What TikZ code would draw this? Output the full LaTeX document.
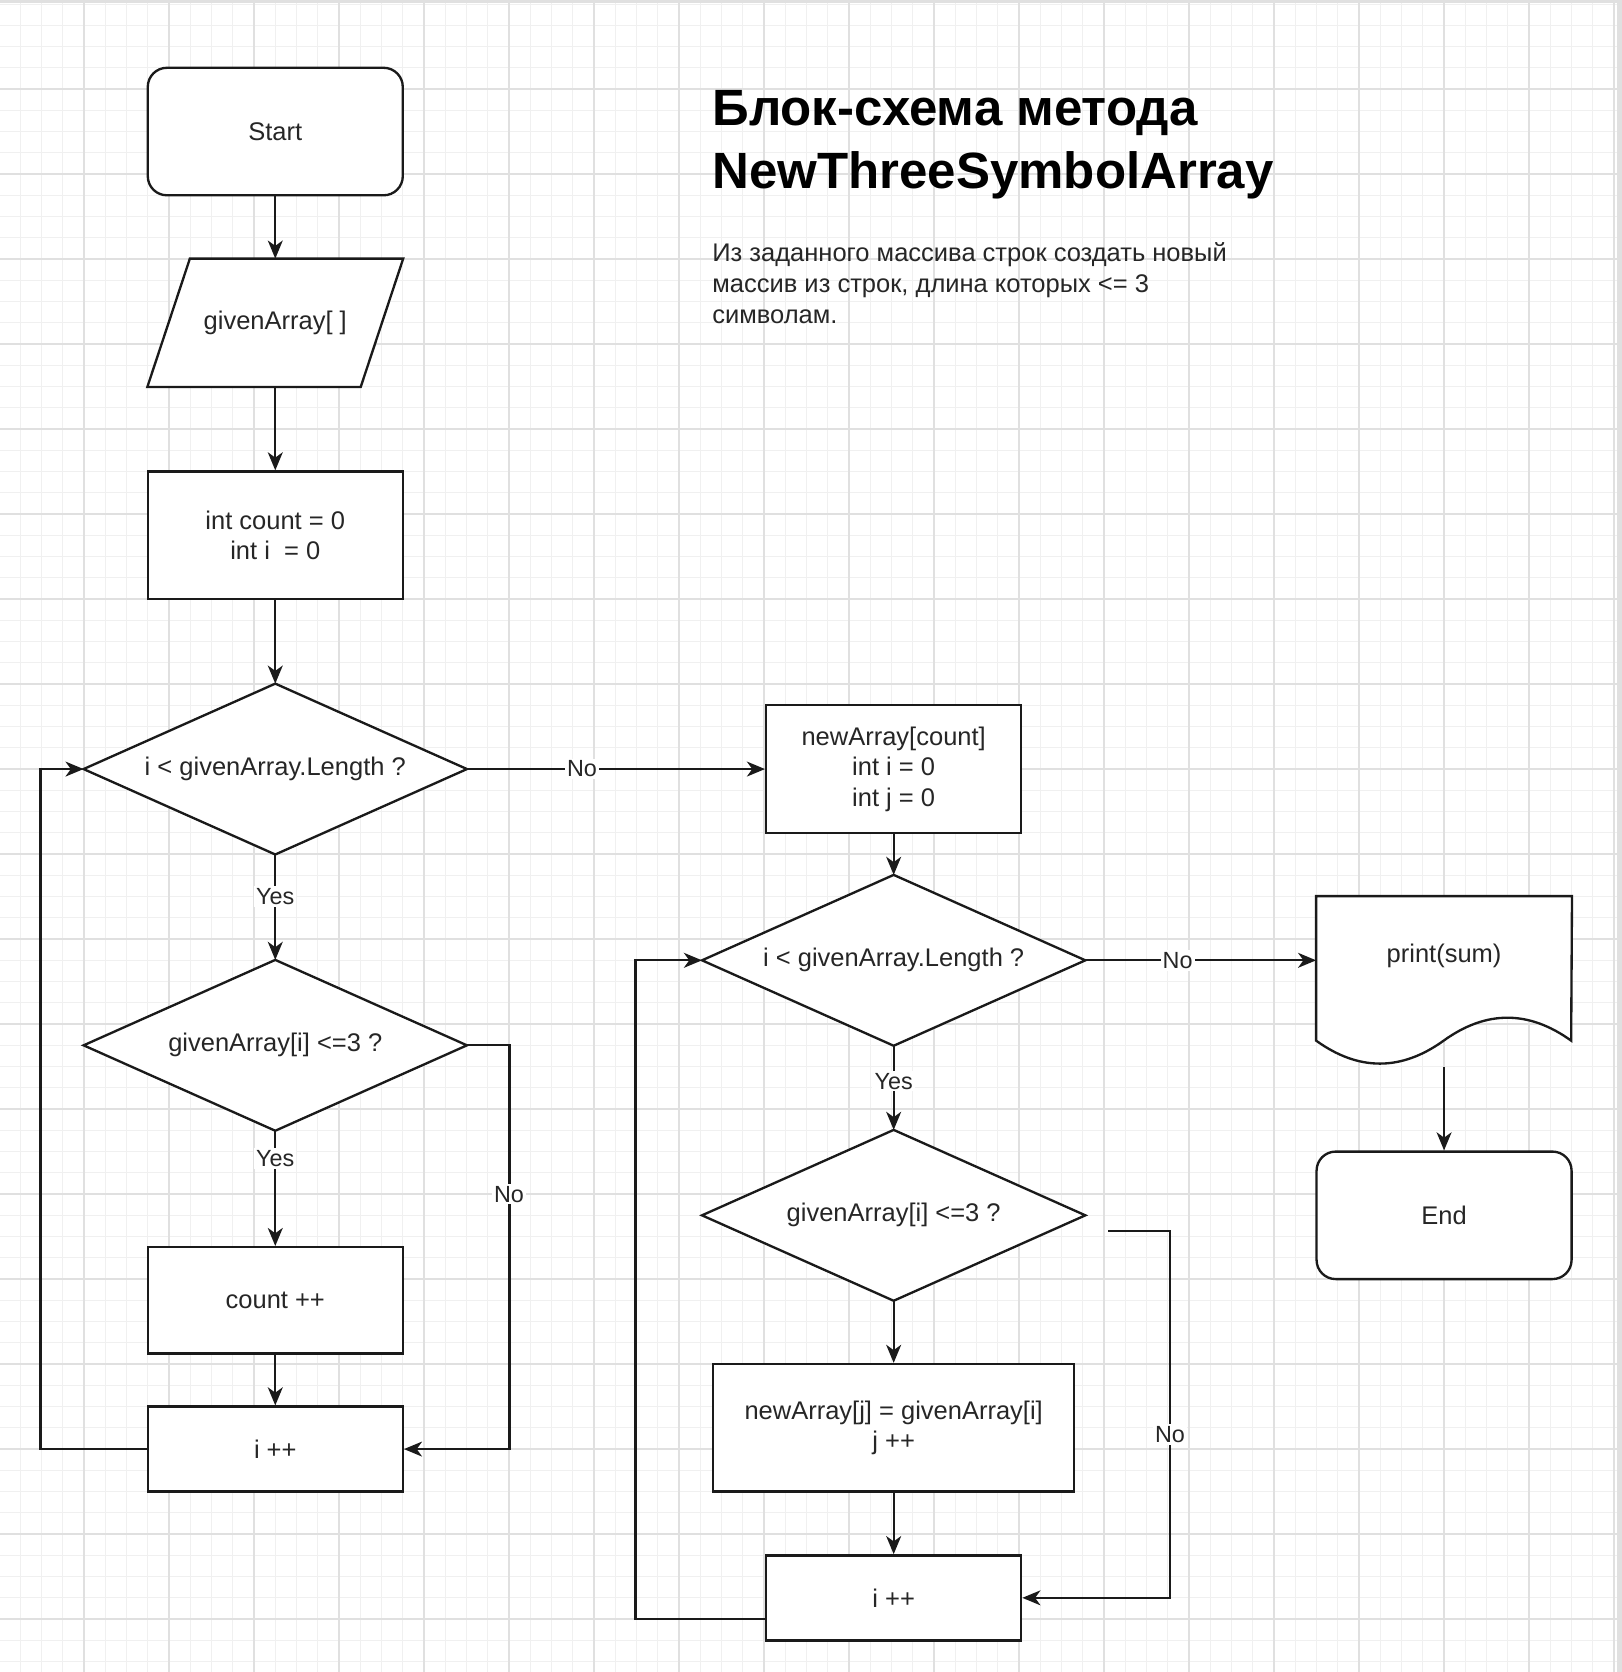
\documentclass[tikz,border=0pt]{standalone}
\usepackage{fontspec}
\setmainfont{Liberation Sans}
\usetikzlibrary{arrows.meta,shapes.geometric,calc}
\definecolor{gridminor}{HTML}{F0F0F0}
\definecolor{gridmajor}{HTML}{E0E0E0}
\definecolor{ink}{HTML}{1A1A1A}
\definecolor{txt}{HTML}{262626}
\begin{document}
\begin{tikzpicture}[x=1pt,y=-1pt,
  every node/.style={font=\fontsize{12}{14.4}\selectfont, text=txt},
  box/.style={draw=ink, line width=1.1pt, fill=white, inner sep=0pt, align=center, minimum width=120pt},
  roundbox/.style={box, rounded corners=9pt, minimum height=60pt},
  plainbox/.style={inner sep=0pt, minimum width=120pt, align=center},
  decbox/.style={inner sep=0pt, minimum width=180pt, minimum height=80pt, align=center},
  shapeline/.style={draw=ink, line width=1.1pt, fill=white},
  arr/.style={draw=ink, line width=1.1pt, -{Stealth[length=8.5pt,width=7pt,inset=2.5pt]}},
  lab/.style={fill=white, inner sep=1pt, font=\fontsize{11}{13}\selectfont},
  minorline/.style={draw=gridminor, line width=0.5pt},
  majorline/.style={draw=gridmajor, line width=0.9pt}
]
\useasboundingbox[fill=white] (-39.54,-41.9) rectangle (723.6,744.9);
% grid
\foreach \x in {-30,-20,...,720} \draw[minorline] (\x,-41.9) -- (\x,744.9);
\foreach \y in {-40,-30,...,740} \draw[minorline] (-39.54,\y) -- (723.6,\y);
\foreach \x in {0,40,...,720} \draw[majorline] (\x,-41.9) -- (\x,744.9);
\foreach \y in {0,40,...,740} \draw[majorline] (-39.54,\y) -- (723.6,\y);
\draw[draw=gridmajor, line width=1pt] (-39.54,-41.2) -- (723.6,-41.2);
\fill[gridmajor] (721.6,-41.9) rectangle (723.6,744.9);

% title and description
\node[anchor=north west, inner sep=0pt, align=left, text=black,
      font=\fontsize{24}{30}\bfseries\selectfont] (title) at (295.5,0.3)
  {Блок-схема метода\\NewThreeSymbolArray};
\node[anchor=north west, inner sep=0pt, align=left,
      font=\fontsize{12}{14.6}\selectfont] (desc) at (295.5,72)
  {Из заданного массива строк создать новый\\массив из строк, длина которых <= 3\\символам.};

% left column
\node[roundbox] (start) at (90,20) {Start};
\node[plainbox, minimum height=60pt] (in) at (90,110) {};
\draw[shapeline] ([xshift=20pt]in.north west) -- (in.north east) -- ([xshift=-20pt]in.south east) -- (in.south west) -- cycle;
\node (intxt) at (in.center) {givenArray[ ]};
\node[box, minimum height=60pt] (init) at (90,210) {int count = 0\\int i \ = 0};
\node[decbox] (d1) at (90,320) {};
\node[decbox] (d2) at (90,450) {};
\node[box, minimum height=50pt] (cnt) at (90,570) {count ++};
\node[box, minimum height=40pt] (inc1) at (90,640) {i ++};

% right column
\node[box, minimum height=60pt] (newarr) at (381,320) {newArray[count]\\int i = 0\\int j = 0};
\node[decbox] (d3) at (381,410) {};
\node[decbox] (d4) at (381,530) {};
\node[box, minimum width=170pt, minimum height=60pt] (assign) at (381,630) {newArray[j] = givenArray[i]\\j ++};
\node[box, minimum height=40pt] (inc2) at (381,710) {i ++};

% diamonds
\foreach \d in {d1,d2,d3,d4}
  \draw[shapeline] (\d.north) -- (\d.east) -- (\d.south) -- (\d.west) -- cycle;
\node (d1txt) at (d1.center) {i < givenArray.Length ?};
\node (d2txt) at (d2.center) {givenArray[i] <=3 ?};
\node (d3txt) at (d3.center) {i < givenArray.Length ?};
\node (d4txt) at (d4.center) {givenArray[i] <=3 ?};

% output and end
\node[plainbox, minimum height=80pt] (print) at (640,420) {};
\draw[shapeline] (print.north west) -- (print.north east)
  -- ($(print.north west)+(120,68)$)
  .. controls ($(print.north west)+(100,53.6)$) and ($(print.north west)+(80,53.6)$) .. ($(print.north west)+(60,68)$)
  .. controls ($(print.north west)+(40,82.4)$) and ($(print.north west)+(20,82.4)$) .. ($(print.north west)+(0,68)$)
  -- cycle;
\node (printtxt) at (640,408) {print(sum)};
\node[roundbox] (end) at (640,530) {End};

% connectors left
\draw[arr] (start.south) -- (in.north);
\draw[arr] (in.south) -- (init.north);
\draw[arr] (init.south) -- (d1.north);
\draw[arr] (d1.south) -- node[lab, pos=0.4] {Yes} (d2.north);
\draw[arr] (d2.south) -- node[lab, pos=0.24] {Yes} (cnt.north);
\draw[arr] (cnt.south) -- (inc1.north);
\draw[arr] (inc1.west) -- ++(-50,0) |- (d1.west);
\draw[arr] (d2.east) -- ++(20,0) |- (inc1.east);
\node[lab] (no1) at (200,520) {No};
\draw[arr] (d1.east) -- node[lab, pos=0.386] {No} (newarr.west);

% connectors right
\draw[arr] (newarr.south) -- (d3.north);
\draw[arr] (d3.east) -- node[lab, pos=0.4] {No} (d3.east -| print.west);
\draw[arr] (print.south) -- (end.north);
\draw[arr] (d3.south) -- node[lab, pos=0.42] {Yes} (d4.north);
\draw[arr] (d4.south) -- (assign.north);
\draw[arr] (assign.south) -- (inc2.north);
\coordinate (nofree) at (482,537.5);
\draw[arr] (nofree) -- (511,537.5) |- (inc2.east);
\node[lab] (no2) at (511,633) {No};
\draw[arr] ([yshift=-10pt]inc2.west) -- ++(-61,0) |- (d3.west);
\end{tikzpicture}
\end{document}
